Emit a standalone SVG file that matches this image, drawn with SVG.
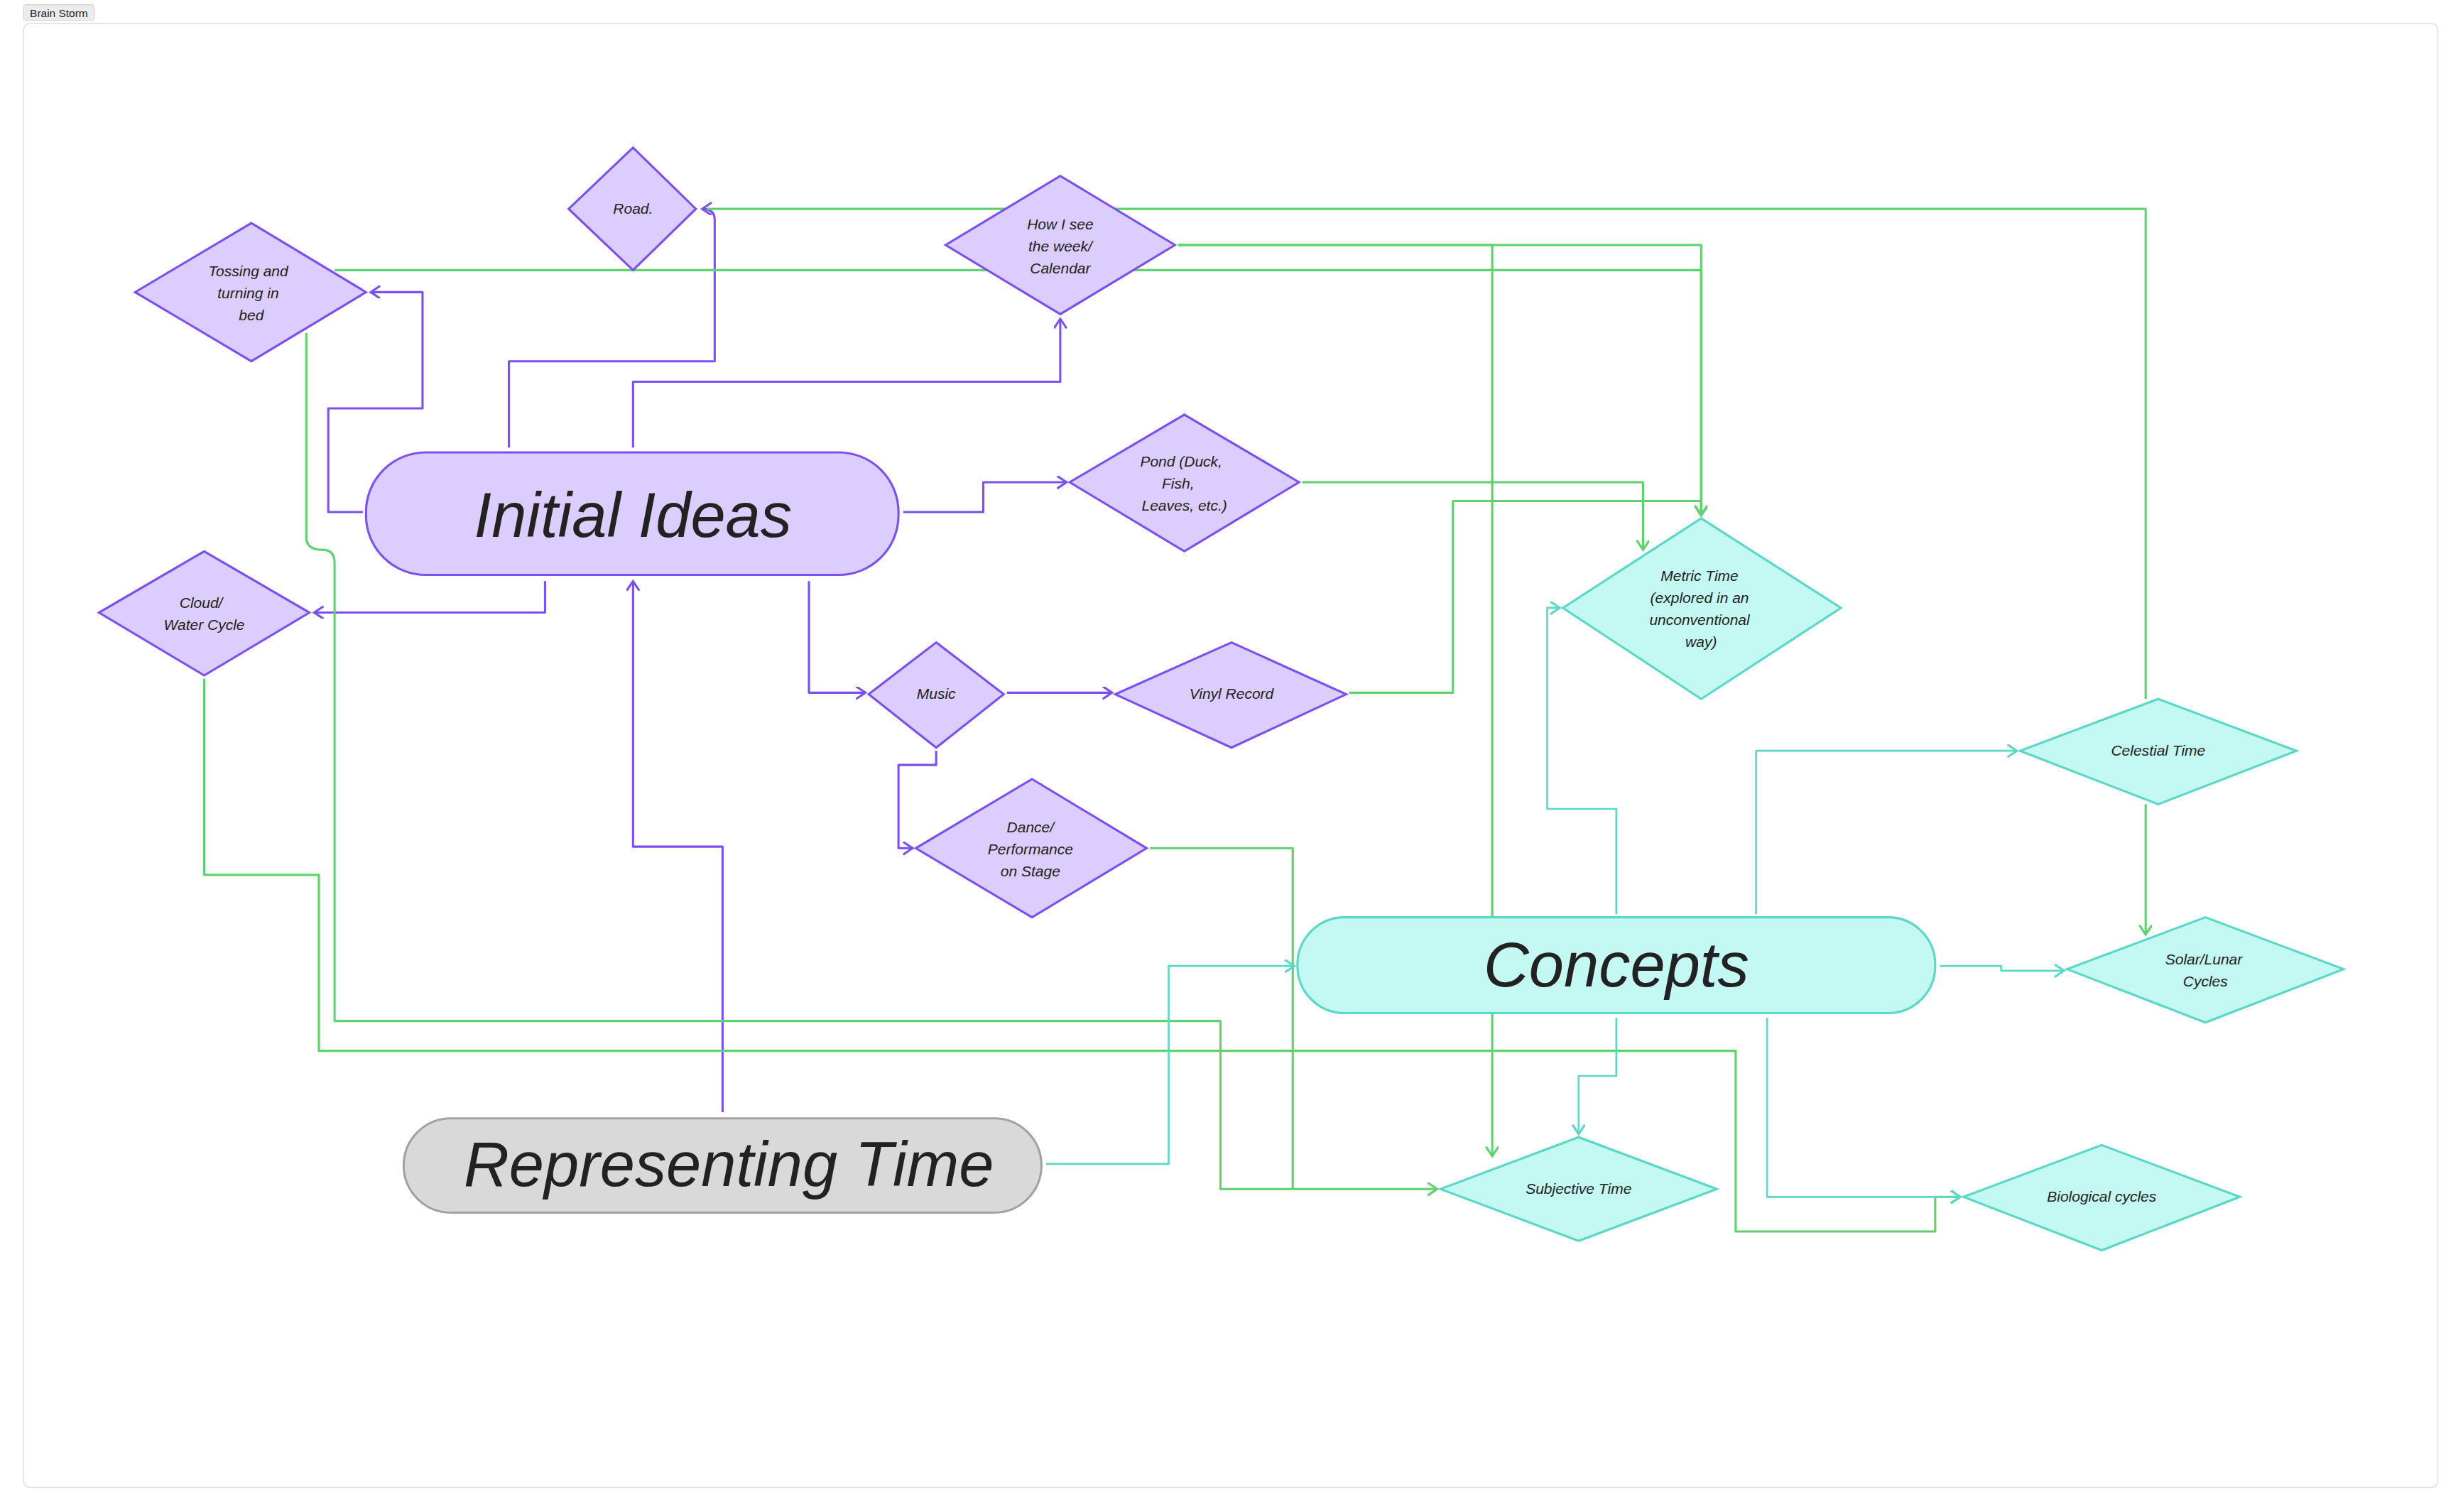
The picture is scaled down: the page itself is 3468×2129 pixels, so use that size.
<svg xmlns="http://www.w3.org/2000/svg" width="3468" height="2129" viewBox="0 0 3468 2129">
<style>
.p{fill:#dccdff;stroke:#7b4ff0;stroke-width:1.4}
.t{fill:#c4f8f2;stroke:#5ad8c6;stroke-width:1.4}
.g{fill:#d9d9d9;stroke:#a2a2a2;stroke-width:1.4}
.cp{fill:none;stroke:#7b4ff0;stroke-width:1.4;stroke-linejoin:round}
.cg{fill:none;stroke:#5fd16e;stroke-width:1.4;stroke-linejoin:round}
.ct{fill:none;stroke:#5ad8c6;stroke-width:1.2;stroke-linejoin:round}
text{font-family:"Liberation Sans","DejaVu Sans",sans-serif;font-style:italic;fill:#222;text-anchor:middle}
.s{font-size:9.5px}
.b{font-size:40px}
</style>
<defs>
<marker id="ap" markerWidth="10" markerHeight="10" refX="7" refY="4" orient="auto" markerUnits="userSpaceOnUse"><path d="M1,0 L7,4 L1,8" fill="none" stroke="#7b4ff0" stroke-width="1.4"/></marker>
<marker id="ag" markerWidth="10" markerHeight="10" refX="7" refY="4" orient="auto" markerUnits="userSpaceOnUse"><path d="M1,0 L7,4 L1,8" fill="none" stroke="#5fd16e" stroke-width="1.4"/></marker>
<marker id="at" markerWidth="10" markerHeight="10" refX="7" refY="4" orient="auto" markerUnits="userSpaceOnUse"><path d="M1,0 L7,4 L1,8" fill="none" stroke="#5ad8c6" stroke-width="1.4"/></marker>
</defs>
<rect width="3468" height="2129" fill="#fff"/>
<g transform="scale(2.2117)">
<g id="frame">
<rect x="15" y="15" width="1537" height="932" rx="4" fill="none" stroke="#e2e2e2" stroke-width="0.8"/>
<rect x="15" y="3" width="45" height="10" rx="2" fill="#ececec" stroke="#cfcfcf" stroke-width="0.5"/>
<text x="37.5" y="10.8" style="font-size:7px;font-style:normal">Brain Storm</text>
</g>
<g id="connectors">
<path class="cp" marker-end="url(#ap)" d="M231,326 H209 V260 H269 V186 H236"/>
<path class="cp" marker-end="url(#ap)" d="M324,285 V230 H455 V140 Q455,133 447,133"/>
<path class="cp" marker-end="url(#ap)" d="M403,285 V243 H675 V203"/>
<path class="cp" marker-end="url(#ap)" d="M575,326 H626 V307 H679"/>
<path class="cp" marker-end="url(#ap)" d="M347,370 V390 H200"/>
<path class="cp" marker-end="url(#ap)" d="M515,370 V441 H551"/>
<path class="cp" marker-end="url(#ap)" d="M641,441 H708"/>
<path class="cp" marker-end="url(#ap)" d="M596,478 V487 H572 V540 H581"/>
<path class="cp" marker-end="url(#ap)" d="M460,708 V539 H403 V370"/>
<path class="cg" marker-end="url(#ag)" d="M213,172 H1083 V328"/>
<path class="cg" marker-end="url(#ag)" d="M750,156 H1083 V328"/>
<path class="cg" marker-end="url(#ag)" d="M750,156 H950 V736"/>
<path class="cg" d="M1366,445 V133 H450"/>
<path class="cg" marker-end="url(#ag)" d="M829,307 H1046 V350"/>
<path class="cg" marker-end="url(#ag)" d="M859,441 H925 V319 H1083 V328"/>
<path class="cg" marker-end="url(#ag)" d="M195,212 V342 Q195,350 205,350 Q213,350 213,358 V650 H777 V757 H915"/>
<path class="cg" marker-end="url(#ag)" d="M130,432 V557 H203 V669 H1105 V784 H1232 V762 H1248"/>
<path class="cg" d="M732,540 H823 V757"/>
<path class="cg" marker-end="url(#ag)" d="M1366,512 V595"/>
<path class="ct" marker-end="url(#at)" d="M666,741 H744 V615 H824"/>
<path class="ct" marker-end="url(#at)" d="M1029,582 V515 H985 V387 H993"/>
<path class="ct" marker-end="url(#at)" d="M1118,582 V478 H1284"/>
<path class="ct" marker-end="url(#at)" d="M1235,615 H1274 V618 H1314"/>
<path class="ct" marker-end="url(#at)" d="M1029,648 V685 H1005 V722"/>
<path class="ct" marker-end="url(#at)" d="M1125,648 V762 H1248"/>
</g>
<g id="road"><polygon class="p" points="403,94 443,133 403,172 362,133"/><text class="s" x="403" y="136">Road.</text></g>
<g id="tossing"><polygon class="p" points="160,142 233,186 160,230 86,186"/><text class="s" x="158" y="176">Tossing and</text><text class="s" x="158" y="190">turning in</text><text class="s" x="160" y="204">bed</text></g>
<g id="howisee"><polygon class="p" points="675,112 748,156 675,200 602,156"/><text class="s" x="675" y="146">How I see</text><text class="s" x="675" y="160">the week/</text><text class="s" x="675" y="174">Calendar</text></g>
<g id="initial"><rect class="p" x="233" y="288" width="339" height="78" rx="38"/><text class="b" x="403" y="342">Initial Ideas</text></g>
<g id="pond"><polygon class="p" points="754,264 827,307 754,351 681,307"/><text class="s" x="752" y="297">Pond (Duck,</text><text class="s" x="750" y="311">Fish,</text><text class="s" x="754" y="325">Leaves, etc.)</text></g>
<g id="cloud"><polygon class="p" points="130,351 197,390 130,430 63,390"/><text class="s" x="128" y="387">Cloud/</text><text class="s" x="130" y="401">Water Cycle</text></g>
<g id="music"><polygon class="p" points="596,409 639,442 596,476 553,442"/><text class="s" x="596" y="445">Music</text></g>
<g id="vinyl"><polygon class="p" points="784,409 857,442 784,476 710,442"/><text class="s" x="784" y="445">Vinyl Record</text></g>
<g id="dance"><polygon class="p" points="657,496 730,540 657,584 583,540"/><text class="s" x="656" y="530">Dance/</text><text class="s" x="656" y="544">Performance</text><text class="s" x="656" y="558">on Stage</text></g>
<g id="metric"><polygon class="t" points="1083,330 1172,387 1083,445 995,387"/><text class="s" x="1082" y="370">Metric Time</text><text class="s" x="1082" y="384">(explored in an</text><text class="s" x="1082" y="398">unconventional</text><text class="s" x="1083" y="412">way)</text></g>
<g id="celestial"><polygon class="t" points="1374,445 1462,478 1374,512 1286,478"/><text class="s" x="1374" y="481">Celestial Time</text></g>
<g id="concepts"><rect class="t" x="826" y="584" width="406" height="61" rx="30" stroke-width="1.8"/><text class="b" x="1029" y="628">Concepts</text></g>
<g id="solar"><polygon class="t" points="1404,584 1492,617 1404,651 1316,617"/><text class="s" x="1403" y="614">Solar/Lunar</text><text class="s" x="1404" y="628">Cycles</text></g>
<g id="representing"><rect class="g" x="257" y="712" width="406" height="60" rx="30"/><text class="b" x="464" y="755">Representing Time</text></g>
<g id="subjective"><polygon class="t" points="1005,724 1093,757 1005,790 917,757"/><text class="s" x="1005" y="760">Subjective Time</text></g>
<g id="biological"><polygon class="t" points="1338,729 1426,762 1338,796 1250,762"/><text class="s" x="1338" y="765">Biological cycles</text></g>
</g>
</svg>
